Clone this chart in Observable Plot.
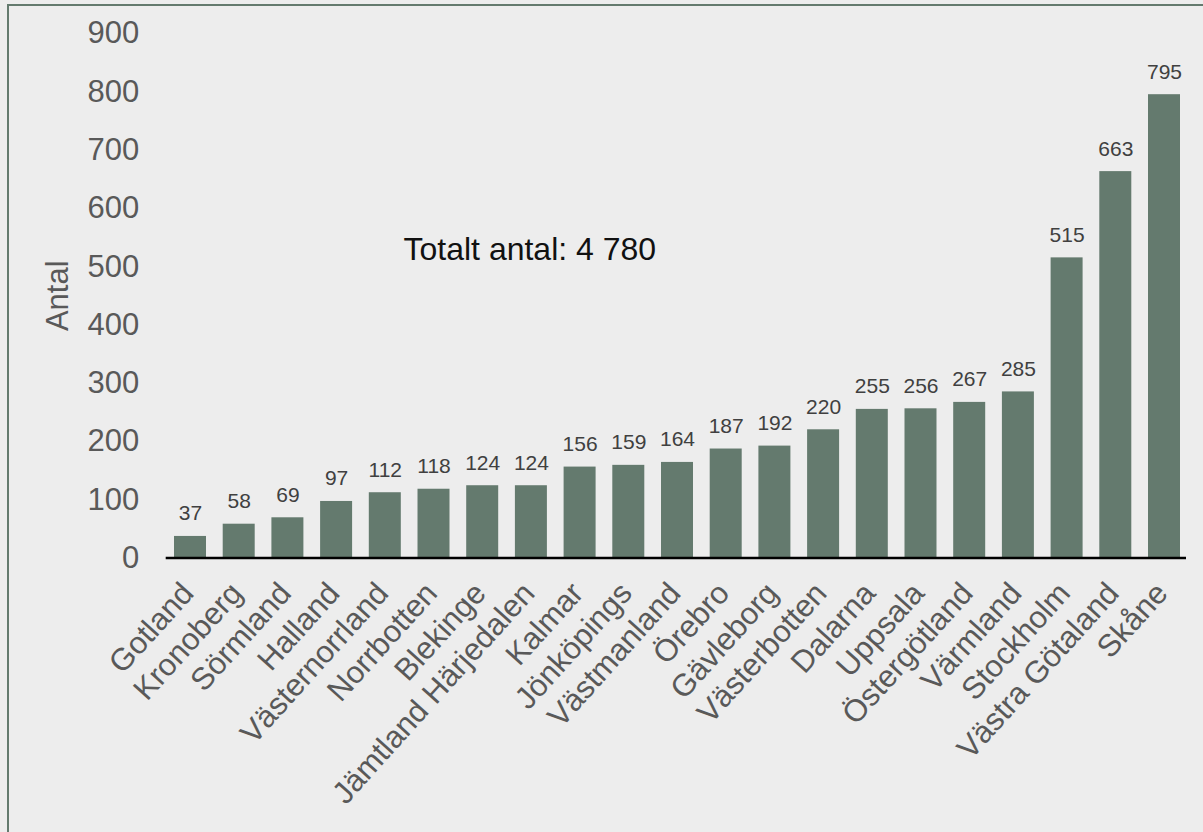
<!DOCTYPE html>
<html>
<head>
<meta charset="utf-8">
<script src="https://cdn.jsdelivr.net/npm/d3@7"></script>
<script src="https://cdn.jsdelivr.net/npm/@observablehq/plot@0.6"></script>
<style>
  html, body { margin: 0; padding: 0; background: #ededed; overflow: hidden; width: 1203px; height: 832px; }
  #frame { position: absolute; left: 7px; top: 4px; width: 1400px; height: 1000px; border: 2px solid #647a6e; box-sizing: border-box; }
  #chart { position: absolute; left: 0; top: 0; }
</style>
</head>
<body>
<div id="frame"></div>
<div id="chart"></div>
<script>
const categories = ["Gotland","Kronoberg","Sörmland","Halland","Västernorrland","Norrbotten","Blekinge","Jämtland Härjedalen","Kalmar","Jönköpings","Västmanland","Örebro","Gävleborg","Västerbotten","Dalarna","Uppsala","Östergötland","Värmland","Stockholm","Västra Götaland","Skåne"];
const values = [37,58,69,97,112,118,124,124,156,159,164,187,192,220,255,256,267,285,515,663,795];
const yTicks = [0,100,200,300,400,500,600,700,800,900];
const totalText = "Totalt antal: 4 780";
const yLabel = "Antal";

const data = categories.map((c, i) => ({region: c, antal: values[i]}));

const chart = Plot.plot({
  width: 1203,
  height: 832,
  marginLeft: 165.7,
  marginRight: 17,
  marginTop: 33,
  marginBottom: 274.5,
  style: {background: "transparent", fontFamily: "'Liberation Sans', Arial, sans-serif", overflow: "visible"},
  x: {domain: categories, padding: 0.343, round: false, range: [157.3, 1196.7], label: null},
  y: {domain: [0, 900], label: null},
  marks: [
    Plot.barY(data, {x: "region", y: "antal", fill: "#647a6e"}),
    Plot.text(data, {x: "region", y: "antal", text: d => String(d.antal), fill: "#404040", fontSize: 21, lineAnchor: "bottom", dy: -16}),
    Plot.ruleY([0], {stroke: "#000", strokeWidth: 2.5}),
    Plot.axisY({ticks: yTicks, tickSize: 0, tickPadding: 27, fontSize: 31, fill: "#595959", label: null}),
    Plot.axisX({tickSize: 0, tickPadding: 29.7, dx: -2.6, tickRotate: -48, fontSize: 31, fill: "#595959", label: null}),
    Plot.text([yLabel], {frameAnchor: "left", text: d => d, rotate: -90, dx: -108, fontSize: 31, fill: "#595959", textAnchor: "middle", lineAnchor: "middle"}),
    Plot.text([totalText], {frameAnchor: "top-left", text: d => d, dx: 237.3, dy: 215.8, fontSize: 32, fill: "#111", textAnchor: "start", lineAnchor: "middle"})
  ]
});
document.getElementById("chart").appendChild(chart);
</script>
</body>
</html>
